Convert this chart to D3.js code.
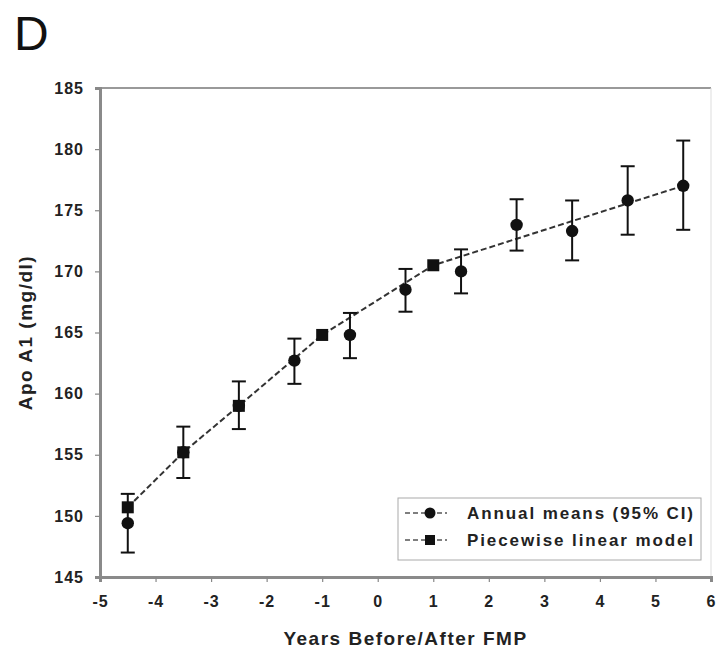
<!DOCTYPE html>
<html><head><meta charset="utf-8">
<script src="https://cdn.jsdelivr.net/npm/d3@7"></script>
<style>
html,body{margin:0;padding:0;background:#fff;}
svg{display:block;font-family:"Liberation Sans",Arial,sans-serif;}
</style></head>
<body>
<svg id="chart" width="719" height="650"></svg>
<script>
// ---- data ----
const meanYears = [-4.5,-3.5,-2.5,-1.5,-0.5,0.5,1.5,2.5,3.5,4.5,5.5];
const meanValues = [149.4,155.2,159.0,162.7,164.8,168.5,170.0,173.8,173.3,175.8,177.0];
const ciLow  = [147.0,153.1,157.1,160.8,162.9,166.7,168.2,171.7,170.9,173.0,173.4];
const ciHigh = [151.8,157.3,161.0,164.5,166.6,170.2,171.8,175.9,175.8,178.6,180.7];
const modelYears  = [-4.5,-3.5,-2.5,-1,1,5.5];
const modelValues = [150.7,155.2,159.0,164.8,170.5,177.0];
const squareYears  = [-4.5,-3.5,-2.5,-1,1];
const squareValues = [150.7,155.2,159.0,164.8,170.5];
const xTicks = [-5,-4,-3,-2,-1,0,1,2,3,4,5,6];
const yTicks = [145,150,155,160,165,170,175,180,185];
const legendLabels = ["Annual means (95% CI)","Piecewise linear model"];

const svg = d3.select("#chart");
const L = 100, R = 711, T = 88, B = 577;
const x = d3.scaleLinear().domain([-5,6]).range([L,R]);
const y = d3.scaleLinear().domain([145,185]).range([B,T]);

// panel letter
svg.append("text").attr("x",14).attr("y",50).attr("font-size",48)
  .attr("fill","#111").text("D");

// frame
svg.append("line").attr("x1",L).attr("x2",R).attr("y1",T).attr("y2",T)
  .attr("stroke","#999").attr("stroke-width",2);
svg.append("line").attr("x1",R).attr("x2",R).attr("y1",T).attr("y2",B)
  .attr("stroke","#ddd").attr("stroke-width",1);

// axes
const fmt = d => String(d);
const yAxis = svg.append("g").attr("transform",`translate(${L},0)`)
  .call(d3.axisLeft(y).tickValues(yTicks).tickFormat(fmt).tickSize(5).tickPadding(11));
const xAxis = svg.append("g").attr("transform",`translate(0,${B})`)
  .call(d3.axisBottom(x).tickValues(xTicks).tickFormat(fmt).tickSize(5).tickPadding(14));
[yAxis,xAxis].forEach(g=>{
  g.select(".domain").attr("stroke","#8a8a8a").attr("stroke-width",3);
  g.selectAll(".tick line").attr("stroke","#888").attr("stroke-width",1.2);
  g.selectAll(".tick text").attr("font-size",16).attr("font-weight","bold")
    .attr("fill","#222").attr("letter-spacing",1)
    .attr("font-family","'Liberation Sans',Arial,sans-serif");
});

// axis titles
svg.append("text").attr("x",(L+R)/2).attr("y",645).attr("text-anchor","middle")
  .attr("font-size",19).attr("font-weight","bold").attr("letter-spacing",1.5)
  .attr("fill","#222").text("Years Before/After FMP");
svg.append("text").attr("transform",`translate(32,${(T+B)/2}) rotate(-90)`)
  .attr("text-anchor","middle").attr("font-size",19).attr("font-weight","bold")
  .attr("letter-spacing",1.5).attr("fill","#222").text("Apo A1 (mg/dl)");

// model line
const modelPts = modelYears.map((d,i)=>[d,modelValues[i]]);
svg.append("path").datum(modelPts)
  .attr("d",d3.line().x(d=>x(d[0])).y(d=>y(d[1])))
  .attr("fill","none").attr("stroke","#333").attr("stroke-width",2)
  .attr("stroke-dasharray","6,3");

// error bars
const means = meanYears.map((d,i)=>({x:d,v:meanValues[i],lo:ciLow[i],hi:ciHigh[i]}));
const eb = svg.append("g").attr("stroke","#111").attr("stroke-width",2);
means.forEach(d=>{
  eb.append("line").attr("x1",x(d.x)).attr("x2",x(d.x)).attr("y1",y(d.lo)).attr("y2",y(d.hi));
  eb.append("line").attr("x1",x(d.x)-7).attr("x2",x(d.x)+7).attr("y1",y(d.lo)).attr("y2",y(d.lo));
  eb.append("line").attr("x1",x(d.x)-7).attr("x2",x(d.x)+7).attr("y1",y(d.hi)).attr("y2",y(d.hi));
});

// circles
svg.append("g").selectAll("circle").data(means).join("circle")
  .attr("cx",d=>x(d.x)).attr("cy",d=>y(d.v)).attr("r",6.2).attr("fill","#111");

// squares
const sq = squareYears.map((d,i)=>[d,squareValues[i]]);
svg.append("g").selectAll("rect").data(sq).join("rect")
  .attr("x",d=>x(d[0])-6).attr("y",d=>y(d[1])-6).attr("width",12).attr("height",12)
  .attr("fill","#111");

// legend
const lg = svg.append("g");
lg.append("rect").attr("x",398).attr("y",498).attr("width",303).attr("height",62)
  .attr("fill","#fff").attr("stroke","#aaa").attr("stroke-width",1);
legendLabels.forEach((lab,i)=>{
  const yy = 513 + i*27;
  lg.append("line").attr("x1",405).attr("x2",447).attr("y1",yy).attr("y2",yy)
    .attr("stroke","#555").attr("stroke-width",1.5).attr("stroke-dasharray","5,3");
  if(i===0) lg.append("circle").attr("cx",430).attr("cy",yy).attr("r",5.5).attr("fill","#111");
  else lg.append("rect").attr("x",425).attr("y",yy-5).attr("width",10).attr("height",10).attr("fill","#111");
  lg.append("text").attr("x",467).attr("y",yy).attr("dy","0.35em")
    .attr("font-size",17).attr("font-weight","bold").attr("letter-spacing",1.9)
    .attr("fill","#222").text(lab);
});
</script>
</body></html>
